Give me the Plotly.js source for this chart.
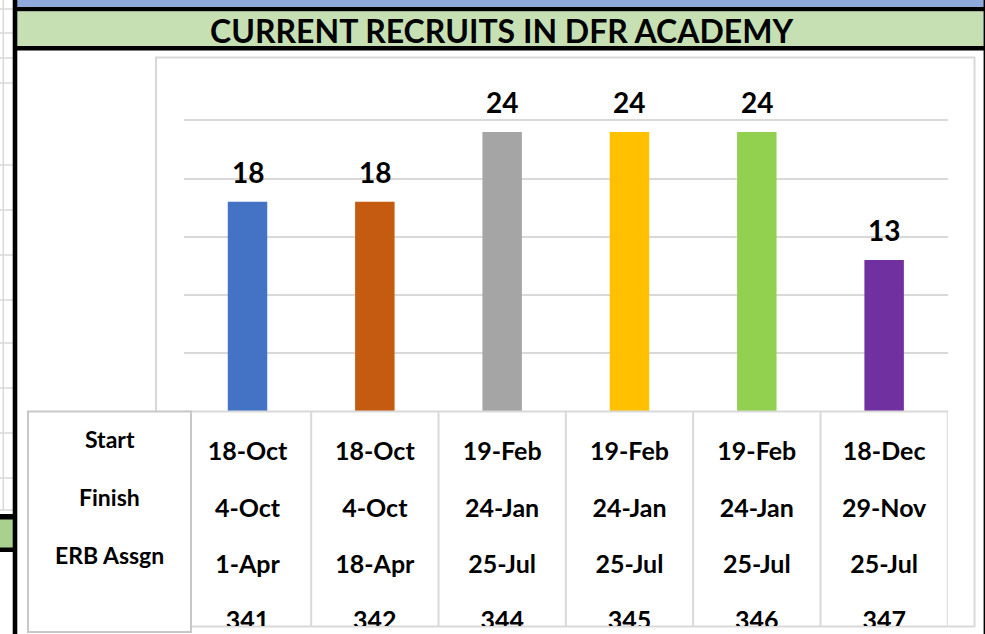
<!DOCTYPE html>
<html>
<head>
<meta charset="utf-8">
<script src="https://cdn.plot.ly/plotly-3.0.1.min.js"></script>
<style>html,body{margin:0;padding:0;background:#fff;}#chart{width:985px;height:634px;}</style>
</head>
<body>
<div id="chart"></div>
<script>
// ---- data ----
const classes = ['341', '342', '344', '345', '346', '347'];
const recruits = [18, 18, 24, 24, 24, 13];
const startDates = ['18-Oct', '18-Oct', '19-Feb', '19-Feb', '19-Feb', '18-Dec'];
const finishDates = ['4-Oct', '4-Oct', '24-Jan', '24-Jan', '24-Jan', '29-Nov'];
const erbAssign = ['1-Apr', '18-Apr', '25-Jul', '25-Jul', '25-Jul', '25-Jul'];
const rowLabels = ['Start', 'Finish', 'ERB Assgn'];
const chartTitle = 'CURRENT RECRUITS IN DFR ACADEMY';

// ---- styles ----
const barColors = ['#4472C4', '#C55A11', '#A5A5A5', '#FFC000', '#92D050', '#7030A0'];
const W = 985, H = 634;
const FONT = 'Lato, "Open Sans", sans-serif';
const px = x => x / W;
const py = y => 1 - y / H;

// table rows (value per row on y2 axis: 3 = first row)
const tableRows = [startDates, finishDates, erbAssign, classes];
const tx = [], ty = [], tt = [];
tableRows.forEach((row, r) => {
  row.forEach((v, i) => { tx.push(classes[i]); ty.push(3 - r); tt.push(v); });
});

const traces = [
  {
    type: 'bar', x: classes, y: recruits, width: 0.31,
    marker: { color: barColors }, hoverinfo: 'skip', xaxis: 'x', yaxis: 'y'
  },
  {
    type: 'scatter', mode: 'text', x: tx, y: ty, text: tt,
    textposition: 'middle center', cliponaxis: true,
    textfont: { family: FONT, size: 25, color: '#000', weight: 'bold' },
    hoverinfo: 'skip', xaxis: 'x', yaxis: 'y2'
  }
];

const shapes = [];
function rect(x0, y0, x1, y1, fill, line, lw, layer) {
  shapes.push({ type: 'rect', xref: 'paper', yref: 'paper', x0: px(x0), x1: px(x1), y0: py(y1), y1: py(y0),
    fillcolor: fill || 'rgba(0,0,0,0)', line: { color: line || 'rgba(0,0,0,0)', width: lw || 0 }, layer: layer || 'above' });
}
function hline(x0, x1, y, color, w, layer) {
  shapes.push({ type: 'line', xref: 'paper', yref: 'paper', x0: px(x0), x1: px(x1), y0: py(y), y1: py(y),
    line: { color: color, width: w }, layer: layer || 'above' });
}
function vline(x, y0, y1, color, w, layer) {
  shapes.push({ type: 'line', xref: 'paper', yref: 'paper', x0: px(x), x1: px(x), y0: py(y0), y1: py(y1),
    line: { color: color, width: w }, layer: layer || 'above' });
}

// spreadsheet cells on the left
vline(3.3, 0, 510, '#D9D9D9', 1.5, 'below');
[9, 33, 58, 83, 165, 210, 255, 300, 343, 388, 433, 478, 510].forEach(y => hline(0, 13, y, '#D9D9D9', 1.5, 'below'));
rect(0, 517, 13, 550, '#A9D08E', null, 0, 'below');
rect(0, 514, 13, 519.5, '#000', null, 0, 'below');
rect(0, 547.5, 13, 552, '#000', null, 0, 'below');

// chart area border
rect(156, 57.5, 974.5, 626.5, null, '#D9D9D9', 2, 'below');

// table column lines
for (let i = 0; i <= classes.length; i++) {
  shapes.push({ type: 'line', xref: 'x', yref: 'paper', x0: i - 0.5, x1: i - 0.5, y0: py(411.5), y1: py(626),
    line: { color: '#D9D9D9', width: 2 }, layer: 'above' });
}
hline(184, 948, 411.5, '#D9D9D9', 2);

// header box
rect(28, 411.5, 191, 632, '#FFFFFF', '#C8C8C8', 2, 'above');

// top bands
rect(13, 0, 985, 7, '#8EA9DB', null, 0, 'above');
rect(13, 7, 985, 11.5, '#000', null, 0, 'above');
rect(13, 11.5, 985, 46, '#C6E0B4', null, 0, 'above');
rect(13, 46, 985, 50.5, '#000', null, 0, 'above');
// black borders
rect(12.7, 0, 17.3, 634, '#000', null, 0, 'above');
rect(983.6, 0, 985, 634, '#000', null, 0, 'above');

const annotations = [];
annotations.push({ text: chartTitle, xref: 'paper', yref: 'paper', x: px(501), y: py(30),
  xanchor: 'center', yanchor: 'middle', showarrow: false,
  font: { family: FONT, size: 32, color: '#000', weight: 'bold' } });
recruits.forEach((v, i) => annotations.push({ text: String(v), x: i, y: v, xref: 'x', yref: 'y',
  xanchor: 'center', yanchor: 'middle', yshift: 30, showarrow: false,
  font: { family: FONT, size: 28, color: '#000', weight: 'bold' } }));
const labelPix = [438.5, 496.5, 554.5];
rowLabels.forEach((t, r) => annotations.push({ text: t, xref: 'paper', yref: 'paper', x: px(109.5), y: py(labelPix[r]),
  xanchor: 'center', yanchor: 'middle', showarrow: false,
  font: { family: FONT, size: 23, color: '#000', weight: 'bold' } }));

const layout = {
  width: W, height: H, margin: { l: 0, r: 0, t: 0, b: 0, pad: 0 },
  paper_bgcolor: '#FFFFFF', plot_bgcolor: 'rgba(0,0,0,0)', showlegend: false,
  xaxis: { domain: [183.85 / W, 947.8 / W], type: 'category', categoryarray: classes, categoryorder: 'array',
    range: [-0.5, classes.length - 0.5], autorange: false, showticklabels: false, showgrid: false,
    zeroline: false, showline: false, ticks: '', fixedrange: true, anchor: 'y' },
  yaxis: { domain: [(H - 411.5) / H, (H - 62) / H], range: [0, 30], autorange: false, dtick: 5, tick0: 0,
    showticklabels: false, gridcolor: '#D9D9D9', gridwidth: 2, zeroline: false, showline: false,
    ticks: '', fixedrange: true, anchor: 'x' },
  yaxis2: { domain: [(H - 626) / H, (H - 411.5) / H], range: [-0.053, 3.754], autorange: false, showticklabels: false,
    showgrid: false, zeroline: false, showline: false, ticks: '', fixedrange: true, anchor: 'x' },
  shapes: shapes, annotations: annotations
};

Plotly.newPlot('chart', traces, layout, { staticPlot: true, displayModeBar: false });
</script>
</body>
</html>
